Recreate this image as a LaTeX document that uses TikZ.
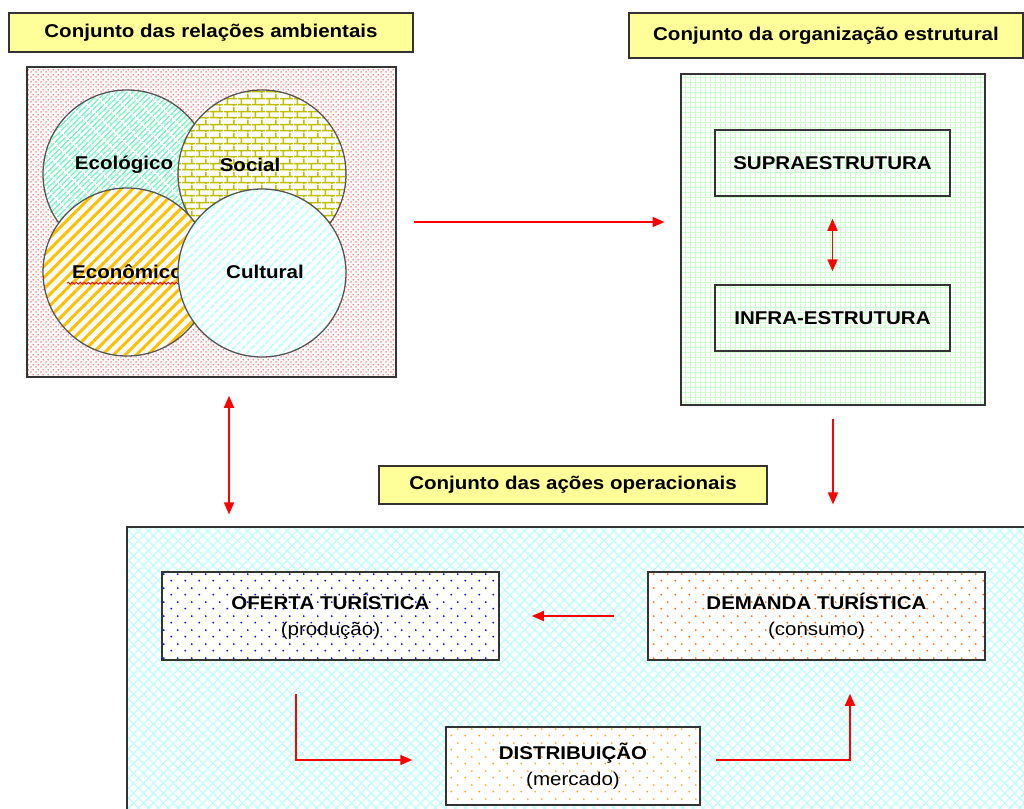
\documentclass[tikz,border=0pt]{standalone}
\usepackage{fontspec}
\setmainfont{Liberation Sans}[FakeStretch=1.11]
\usepackage{tikz}
\usetikzlibrary{arrows.meta, patterns.meta, positioning, decorations.pathmorphing}
\definecolor{TitleFill}{HTML}{FFFF99}
\definecolor{Frame}{HTML}{333333}
\definecolor{RingLine}{HTML}{555555}
\definecolor{Arrow}{HTML}{FF0000}
\definecolor{EcoGreen}{HTML}{80F5C4}
\definecolor{Olive}{HTML}{BFBF00}
\definecolor{Gold}{HTML}{FFC000}
\definecolor{CultCyan}{HTML}{C4FFFF}
\definecolor{GridGreen}{HTML}{C8FFC8}
\definecolor{HatchCyan}{HTML}{BDFFFF}
\definecolor{DotRed}{HTML}{FF0000}
\definecolor{DotBlue}{HTML}{0000FF}
\definecolor{DotOrange}{HTML}{FF6A00}
\definecolor{DotGold}{HTML}{FFA31A}
\newcommand{\diagfont}{\fontsize{18.5}{26}\selectfont}

% fill patterns
\tikzdeclarepattern{
  name=finedots, type=uncolored,
  bounding box={(0pt,0pt) and (5pt,5pt)},
  tile size={(5pt,5pt)},
  code={\fill (1.25pt,1.25pt) circle (0.8pt); \fill (3.75pt,3.75pt) circle (0.8pt);}
}
\tikzdeclarepattern{
  name=sparsedots, type=uncolored,
  bounding box={(0pt,0pt) and (14pt,14pt)},
  tile size={(14pt,14pt)},
  code={\fill (3.5pt,3.5pt) circle (1.05pt); \fill (10.5pt,10.5pt) circle (1.05pt);}
}
\tikzdeclarepattern{
  name=brickwall, type=uncolored,
  bounding box={(0pt,0pt) and (14pt,13pt)},
  tile size={(14pt,13pt)},
  code={\draw[line width=1.6pt] (0pt,1.5pt) -- (14pt,1.5pt) (0pt,8pt) -- (14pt,8pt)
    (3.5pt,1.5pt) -- (3.5pt,8pt) (10.5pt,8pt) -- (10.5pt,13pt) (10.5pt,0pt) -- (10.5pt,1.5pt);}
}
\tikzdeclarepattern{
  name=slantbricks, type=uncolored,
  bounding box={(0pt,0pt) and (12pt,8pt)},
  tile size={(12pt,8pt)},
  tile transformation={rotate=45},
  code={\draw[line width=1.4pt] (0pt,2pt) -- (12pt,2pt) (0pt,6pt) -- (12pt,6pt)
    (3pt,2pt) -- (3pt,6pt) (9pt,6pt) -- (9pt,8pt) (9pt,0pt) -- (9pt,2pt);}
}

\tikzset{
  titlebox/.style={draw=Frame, line width=1.5pt, fill=TitleFill, inner sep=0pt, font=\diagfont\bfseries},
  panel/.style={draw=Frame, line width=1.5pt, inner sep=0pt},
  ring/.style={circle, draw=RingLine, line width=1.3pt, minimum size=168pt, inner sep=0pt, preaction={fill=white}},
  framebox/.style={draw=Frame, line width=1.5pt, inner sep=0pt, align=center},
  word/.style={inner sep=0pt, font=\diagfont\bfseries},
  flow/.style={-{Triangle[length=12pt,width=10pt]}, draw=Arrow, line width=1.5pt},
  flowboth/.style={{Triangle[length=12pt,width=10pt]}-{Triangle[length=12pt,width=10pt]}, draw=Arrow, line width=1.5pt},
  spell/.style={draw=Arrow, line width=0.8pt, decorate, decoration={snake, segment length=4pt, amplitude=1pt}},
}

\begin{document}
\begin{tikzpicture}[x=1pt, y=-1pt, every node/.style={font=\diagfont}]
  \useasboundingbox (0,0) rectangle (1024,808);

  % Titles
  \node[titlebox, minimum width=404pt, minimum height=39pt] (reltitle) at (211,32.5) {Conjunto das relações ambientais};
  \node[titlebox, minimum width=394pt, minimum height=45pt] (orgtitle) at (826,35.5) {Conjunto da organização estrutural};
  \node[titlebox, minimum width=388pt, minimum height=38pt] (opstitle) at (573,485) {Conjunto das ações operacionais};

  % Environmental relations
  \node[panel, minimum width=369pt, minimum height=310pt, preaction={fill=white},
        pattern=finedots, pattern color=DotRed] (relpanel) at (211.5,222) {};
  \node[ring, pattern=slantbricks, pattern color=EcoGreen] (eco) at (127,174) {};
  \node[word] (ecotext) at (124,165) {Ecológico};
  \node[ring, pattern=brickwall, pattern color=Olive] (soc) at (262,174) {};
  \node[word] (soctext) at (250,165) {Social};
  \node[ring, pattern={Lines[angle=45,distance=8pt,line width=3pt]}, pattern color=Gold] (econ) at (127,272) {};
  \node[word, anchor=west] (econtext) at (72,272) {Econômico};
  \draw[spell] ([xshift=-5pt,yshift=-4pt]econtext.south west) -- ([yshift=-4pt]econtext.south east);
  \node[ring, pattern={Lines[angle=45,distance=6.5pt,line width=2.5pt]}, pattern color=CultCyan] (cult) at (262,273) {};
  \node[word] (culttext) at (265,272) {Cultural};

  % Structural organization
  \node[panel, minimum width=304pt, minimum height=331pt, preaction={fill=white},
        preaction={pattern={Lines[angle=90,distance=5pt,line width=1pt]}, pattern color=GridGreen},
        pattern={Lines[angle=0,distance=5pt,line width=1pt]}, pattern color=GridGreen] (orgpanel) at (833,239.5) {};
  \node[framebox, minimum width=235pt, minimum height=66pt, font=\diagfont\bfseries] (supra) at (832.5,163) {SUPRAESTRUTURA};
  \node[framebox, minimum width=235pt, minimum height=66pt, font=\diagfont\bfseries] (infra) at (832.5,318) {INFRA-ESTRUTURA};

  % Operational actions
  \node[panel, minimum width=913pt, minimum height=303pt, preaction={fill=white},
        preaction={pattern={Lines[angle=-45,distance=7pt,line width=1.2pt]}, pattern color=HatchCyan},
        pattern={Lines[angle=45,distance=7pt,line width=1.2pt]}, pattern color=HatchCyan] (opspanel) at (583.5,678.5) {};
  \node[framebox, minimum width=337pt, minimum height=88pt, preaction={fill=white},
        pattern=sparsedots, pattern color=DotBlue] (oferta) at (330.5,616) {\textbf{OFERTA TURÍSTICA}\\(produção)};
  \node[framebox, minimum width=337pt, minimum height=88pt, preaction={fill=white},
        pattern=sparsedots, pattern color=DotOrange] (demanda) at (816.5,616) {\textbf{DEMANDA TURÍSTICA}\\(consumo)};
  \node[framebox, minimum width=254pt, minimum height=78pt, preaction={fill=white},
        pattern=sparsedots, pattern color=DotGold] (distrib) at (573,766) {\textbf{DISTRIBUIÇÃO}\\(mercado)};

  % Connectors
  \draw[flow] ([xshift=17pt]relpanel.east) -- ([xshift=-16pt]relpanel.east -| orgpanel.west);
  \draw[flowboth, shorten <=22pt, shorten >=13pt] (supra.south) -- (infra.north);
  \draw[flow, shorten <=13pt, shorten >=22pt] (orgpanel.south) -- (orgpanel.south |- opspanel.north);
  \draw[flowboth, shorten <=18pt, shorten >=12pt] ([xshift=17.5pt]relpanel.south) -- ([xshift=17.5pt]relpanel.south |- opspanel.north);
  \draw[flow, shorten <=33pt, shorten >=32pt] (demanda.west) -- (oferta.east);
  \draw[flow, shorten <=33pt, shorten >=33pt] ([xshift=-34.5pt]oferta.south) |- ([yshift=6pt]distrib.west);
  \draw[flow, shorten <=15pt, shorten >=33pt] ([yshift=6pt]distrib.east) -| ([xshift=33.5pt]demanda.south);
\end{tikzpicture}
\end{document}
